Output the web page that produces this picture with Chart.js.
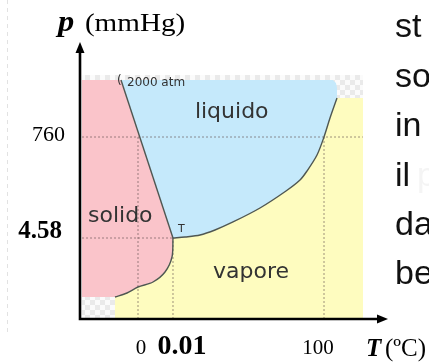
<!DOCTYPE html>
<html>
<head>
<meta charset="utf-8">
<script src="https://cdn.jsdelivr.net/npm/chart.js@4.4.1/dist/chart.umd.min.js"></script>
<style>
  html, body { margin: 0; padding: 0; background: #ffffff; }
  canvas { display: block; }
</style>
</head>
<body>
<canvas id="c" width="429" height="362"></canvas>
<script>
// ---- DATA (schematic diagram units, 0..100 on both axes; the diagram is not to scale) ----
const triplePoint = [{ x: 30.19, y: 29.24 }];
const meltingTop = [{ x: 13.31, y: 86.28 }];               // solid-liquid line top (2000 atm)
const vaporCurve = [                                        // liquid-vapour boundary, from T upward
  { x: 30.19, y: 29.24 }, { x: 34.09, y: 29.60 }, { x: 38.96, y: 30.32 },
  { x: 43.83, y: 32.13 }, { x: 49.68, y: 35.02 }, { x: 58.44, y: 40.07 },
  { x: 66.88, y: 46.21 }, { x: 71.43, y: 50.18 }, { x: 73.70, y: 53.43 },
  { x: 76.95, y: 59.21 }, { x: 79.22, y: 65.70 }, { x: 81.17, y: 72.56 },
  { x: 83.44, y: 79.78 }
];
const sublimationCurve = [                                  // solid-vapour boundary, from T downward
  { x: 30.19, y: 29.24 }, { x: 29.87, y: 22.38 }, { x: 27.60, y: 16.97 },
  { x: 23.70, y: 13.36 }, { x: 18.83, y: 11.55 }, { x: 15.26, y: 9.39 },
  { x: 11.36, y: 7.94 }
];
const frame = { xMin: 0.65, xMax: 91.88, yMin: 0, yTop: 86.28, yImg: 88.1, yVapTop: 79.78 };

const yTickValues = [65.70, 29.24];
const yTickLabels = ['760', '4.58'];
const xTickValues = [18.83, 30.19, 79.22];
const xTickLabels = ['0', '0.01', '100'];

const regionLabels = [
  { text: 'liquido', x: 37.3, y: 74.8 },
  { text: 'solido', x: 2.6, y: 37.0 },
  { text: 'vapore', x: 43.2, y: 17.0 }
];
const sideText = ['st', 'so', 'in', 'il', 'da', 'be'];

// ---- build polygons from the arrays ----
const T0 = triplePoint[0];
const pinkPoly = [
  { x: frame.xMin, y: frame.yTop }, meltingTop[0], T0,
  ...sublimationCurve.slice(1),
  { x: frame.xMin, y: sublimationCurve[sublimationCurve.length - 1].y }
];
const bluePoly = [
  meltingTop[0], { x: 82.1, y: frame.yTop }, { x: 83.1, y: 85.2 }, { x: 83.44, y: 83.5 },
  ...vaporCurve.slice().reverse(), T0
];
const subEnd = sublimationCurve[sublimationCurve.length - 1];
const yellowPoly = [
  ...vaporCurve,
  { x: frame.xMax, y: frame.yVapTop }, { x: frame.xMax, y: frame.yMin },
  { x: subEnd.x, y: frame.yMin },
  ...sublimationCurve.slice().reverse()
];

const dotted = 'rgba(95,75,75,0.5)';
const curveColor = '#4f5752';
function poly(data, color) {
  return { data, showLine: true, fill: 'shape', backgroundColor: color, borderWidth: 0,
           borderColor: 'rgba(0,0,0,0)', pointRadius: 0, tension: 0, order: 10 };
}
function line(data, color, width, dash, order, tension) {
  return { data, showLine: true, fill: false, borderColor: color, borderWidth: width,
           borderDash: dash || [], pointRadius: 0, tension: tension || 0, order: order };
}

const datasets = [
  poly(pinkPoly, '#fac4ca'),
  poly(bluePoly, '#c5e9fb'),
  poly(yellowPoly, '#fefcbf'),
  line([{ x: frame.xMin, y: yTickValues[0] }, { x: frame.xMax, y: yTickValues[0] }], dotted, 1.2, [2, 2], 5),
  line([{ x: frame.xMin, y: yTickValues[1] }, { x: xTickValues[1], y: yTickValues[1] }], dotted, 1.2, [2, 2], 5),
  line([{ x: xTickValues[0], y: 0 }, { x: xTickValues[0], y: yTickValues[0] }], dotted, 1.2, [2, 2], 5),
  line([{ x: xTickValues[1], y: 0 }, { x: xTickValues[1], y: yTickValues[1] }], dotted, 1.2, [2, 2], 5),
  line([{ x: xTickValues[2], y: 0 }, { x: xTickValues[2], y: yTickValues[0] }], dotted, 1.2, [2, 2], 5),
  line([meltingTop[0], T0], curveColor, 1.4, null, 1),
  line(vaporCurve, curveColor, 1.4, null, 1, 0.3),
  line(sublimationCurve, curveColor, 1.4, null, 1, 0.3)
];

// checkerboard for the transparent parts of the diagram image
function checker(ctx) {
  const c = document.createElement('canvas');
  c.width = 10; c.height = 10;
  const g = c.getContext('2d');
  g.fillStyle = '#fbfbfb'; g.fillRect(0, 0, 10, 10);
  g.fillStyle = '#eaeaea'; g.fillRect(0, 0, 5, 5); g.fillRect(5, 5, 5, 5);
  return ctx.createPattern(c, 'repeat');
}

const backgroundPlugin = {
  id: 'bg',
  beforeDatasetsDraw(chart) {
    const { ctx, scales: { x, y } } = chart;
    ctx.save();
    // slide edge
    ctx.strokeStyle = '#e2e2e2'; ctx.lineWidth = 1; ctx.setLineDash([4, 4]);
    ctx.beginPath(); ctx.moveTo(7.5, 0); ctx.lineTo(7.5, 336); ctx.stroke();
    ctx.setLineDash([]);
    ctx.fillStyle = checker(ctx);
    const l = x.getPixelForValue(frame.xMin), r = x.getPixelForValue(frame.xMax);
    const t = y.getPixelForValue(frame.yImg), b = y.getPixelForValue(frame.yMin);
    ctx.fillRect(l, t, r - l, b - t);
    ctx.restore();
  }
};

const overlayPlugin = {
  id: 'overlay',
  afterDatasetsDraw(chart) {
    const { ctx, chartArea: a, scales: { x, y } } = chart;
    ctx.save();
    // axes with arrows
    ctx.strokeStyle = '#000'; ctx.fillStyle = '#000'; ctx.lineWidth = 2.6;
    ctx.beginPath();
    ctx.moveTo(a.left, a.top + 8); ctx.lineTo(a.left, a.bottom); ctx.lineTo(a.right - 8, a.bottom);
    ctx.stroke();
    ctx.beginPath();
    ctx.moveTo(a.left, a.top); ctx.lineTo(a.left - 4.5, a.top + 11); ctx.lineTo(a.left + 4.5, a.top + 11); ctx.closePath(); ctx.fill();
    ctx.beginPath();
    ctx.moveTo(a.right, a.bottom); ctx.lineTo(a.right - 11, a.bottom - 4.5); ctx.lineTo(a.right - 11, a.bottom + 4.5); ctx.closePath(); ctx.fill();

    // y tick labels
    const serif = '"Liberation Serif", "Times New Roman", serif';
    const yFonts = ['22px ' + serif, 'bold 25px ' + serif];
    const yDx = [-15, -18];
    const yDy = [-2, -6];
    ctx.textAlign = 'right'; ctx.textBaseline = 'middle';
    yTickValues.forEach((v, i) => {
      ctx.font = yFonts[i];
      ctx.fillText(yTickLabels[i], a.left + yDx[i], y.getPixelForValue(v) + yDy[i]);
    });
    // x tick labels
    const xFonts = ['21px ' + serif, 'bold 28px ' + serif, '21px ' + serif];
    const xDx = [3, 9, -6];
    ctx.textAlign = 'center'; ctx.textBaseline = 'alphabetic';
    xTickValues.forEach((v, i) => {
      ctx.font = xFonts[i];
      ctx.fillText(xTickLabels[i], x.getPixelForValue(v) + xDx[i], 354);
    });
    // axis titles
    ctx.textAlign = 'left';
    ctx.save();
    ctx.translate(58, 31); ctx.scale(1.12, 1);
    ctx.font = 'italic bold 29px ' + serif; ctx.fillText('p', 0, 0);
    ctx.font = '26px ' + serif; ctx.fillText('(mmHg)', 24, 0);
    ctx.restore();
    ctx.font = 'italic bold 25px ' + serif; ctx.fillText('T', 366, 356);
    ctx.font = '25px ' + serif; ctx.fillText('(\u00BAC)', 385, 356);

    // region labels
    const sans = '"DejaVu Sans", Verdana, sans-serif';
    ctx.fillStyle = '#333'; ctx.textBaseline = 'middle';
    ctx.font = '22px ' + sans;
    regionLabels.forEach(r => ctx.fillText(r.text, x.getPixelForValue(r.x), y.getPixelForValue(r.y)));
    ctx.font = '12px ' + sans;
    ctx.fillText('2000 atm', x.getPixelForValue(meltingTop[0].x) + 6, y.getPixelForValue(meltingTop[0].y) + 3);
    ctx.fillText('(', x.getPixelForValue(meltingTop[0].x) - 4, y.getPixelForValue(meltingTop[0].y) + 1);
    ctx.font = '11px ' + sans;
    ctx.fillText('T', x.getPixelForValue(T0.x) + 5, y.getPixelForValue(T0.y) - 9);

    // slide text on the right
    ctx.fillStyle = '#111';
    ctx.font = '34px "Liberation Sans Narrow", "Arial Narrow", "Liberation Sans", sans-serif';
    sideText.forEach((s, i) => ctx.fillText(s, 395, 28 + i * 49.4));
    ctx.fillStyle = '#f4f4f4';
    ctx.fillText('p', 417, 28 + 3 * 49.4);
    ctx.restore();
  }
};

new Chart(document.getElementById('c'), {
  type: 'scatter',
  data: { datasets },
  options: {
    responsive: false,
    animation: false,
    events: [],
    layout: { padding: { left: 80, right: 41, top: 42, bottom: 43 } },
    scales: {
      x: { type: 'linear', min: 0, max: 100, display: false },
      y: { type: 'linear', min: 0, max: 100, display: false }
    },
    plugins: { legend: { display: false }, tooltip: { enabled: false } }
  },
  plugins: [backgroundPlugin, overlayPlugin]
});
</script>
</body>
</html>
